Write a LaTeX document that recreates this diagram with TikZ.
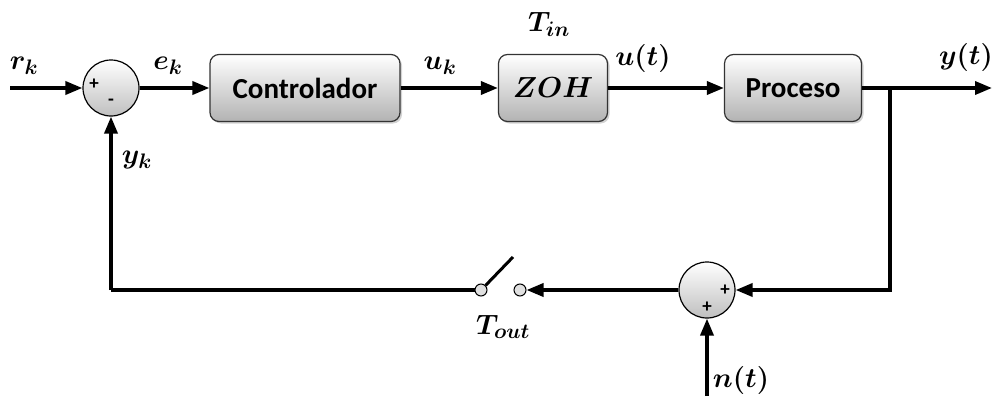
\RequirePackage{fix-cm}
\documentclass[tikz,border=0pt]{standalone}
\usepackage{fontspec}
\usepackage{amsmath}
\usepackage{bm}
\DeclareMathSizes{28}{28}{21}{16}
\DeclareMathSizes{29}{29}{22}{17}
\newfontfamily\boxfont{Carlito}
\usetikzlibrary{arrows.meta,shadows}
\begin{document}
\begin{tikzpicture}[x=1pt,y=-1pt,
  blockbox/.style={draw=black!80,line width=1.2pt,rounded corners=9pt,
    top color=white,bottom color=black!30,
    drop shadow={shadow xshift=2pt,shadow yshift=-2pt,opacity=0.35},
    minimum height=67pt,inner sep=0pt,font=\boxfont\bfseries\fontsize{29}{32}\selectfont},
  sumnode/.style={circle,draw=black,line width=1.2pt,minimum size=56pt,inner sep=0pt,
    top color=white,bottom color=black!25},
  contact/.style={circle,draw=black,line width=1pt,minimum size=12pt,inner sep=0pt,fill=black!12},
  sig/.style={line width=3.5pt,-{Triangle[length=17pt,width=13pt]}},
  wire/.style={line width=3.5pt},
  lbl/.style={font=\fontsize{28}{32}\selectfont},
  sgn/.style={font=\boxfont\bfseries\fontsize{19}{20}\selectfont,inner sep=0pt}]
\useasboundingbox (0,0) rectangle (995,396);
% nodes
\node[sumnode] (s1) at (111,88) {};
\node[blockbox,minimum width=190pt] (ctrl) at (305,88) {Controlador};
\node[blockbox,minimum width=109pt] (zoh) at (553,88) {$\bm{ZOH}$};
\node[blockbox,minimum width=137pt] (proc) at (793,88) {Proceso};
\node[sumnode] (s2) at (707,290) {};
\node[contact] (cl) at (481,290) {};
\node[contact] (cr) at (520,290) {};
\coordinate (rin) at (10,88);
\coordinate (yout) at (992,88);
\coordinate (br) at (890,88);
\coordinate (brd) at (890,290);
\coordinate (nin) at (707,396);
\coordinate (fbc) at (111,290);
\coordinate (lev) at (513,257);
% signs
\node[sgn] at (94,84) {+};
\node[sgn] at (111,102) {-};
\node[sgn] at (725,290) {+};
\node[sgn] at (707,307) {+};
% connectors
\draw[sig] (rin) -- (s1.west);
\draw[sig] (s1.east) -- (ctrl.west);
\draw[sig] (ctrl.east) -- (zoh.west);
\draw[sig] (zoh.east) -- (proc.west);
\draw[sig] (proc.east) -- (yout);
\draw[wire,line cap=rect] (br) -- (brd) -- ++(-5,0);
\draw[sig] (brd) -- (s2.east);
\draw[sig] (nin) -- (s2.south);
\draw[sig] (s2.west) -- (cr.east);
\draw[wire] (cl.west) -- (fbc);
\draw[sig] (fbc) -- (s1.south);
\draw[line width=3pt] (cl.north east) -- (lev);
% labels
\node[lbl] (lrk) at (24,66) {$\bm{r_k}$};
\node[lbl] (lek) at (168,66) {$\bm{e_k}$};
\node[lbl] (luk) at (440,66) {$\bm{u_k}$};
\node[lbl] (ltin) at (549,24) {$\bm{T_{in}}$};
\node[lbl] (lut) at (643,58) {$\bm{u(t)}$};
\node[lbl] (lyt) at (966,57) {$\bm{y(t)}$};
\node[lbl] (lyk) at (137,160) {$\bm{y_k}$};
\node[lbl] (ltout) at (503,327) {$\bm{T_{out}}$};
\node[lbl] (lnt) at (741,380) {$\bm{n(t)}$};
\end{tikzpicture}
\end{document}
